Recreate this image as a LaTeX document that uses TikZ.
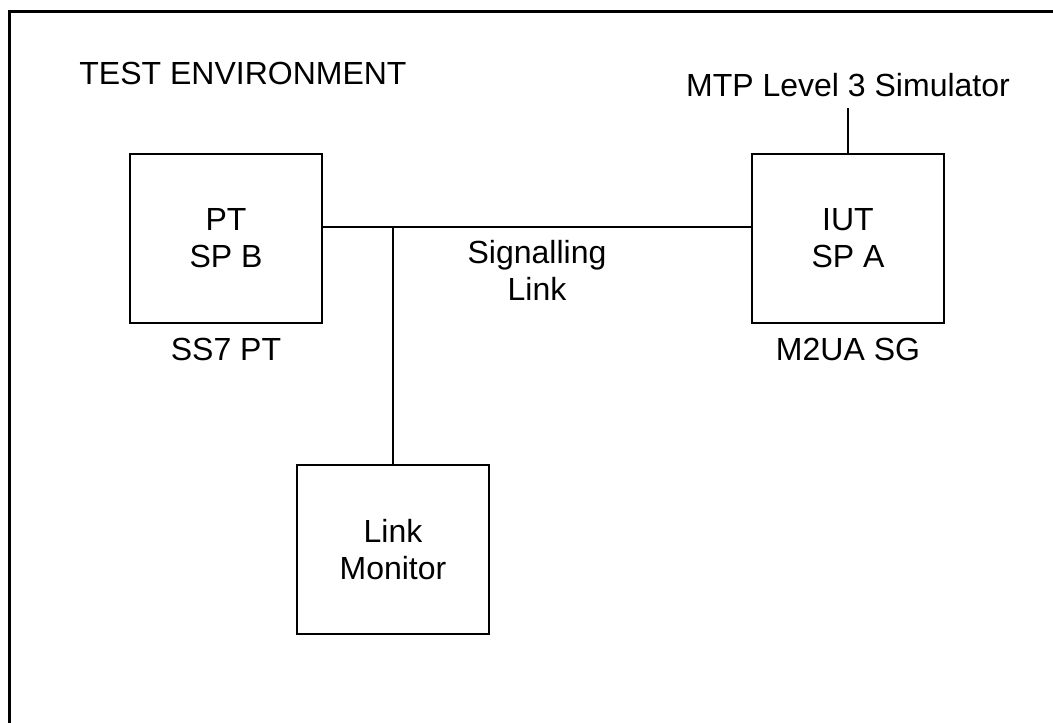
\documentclass[tikz,border=0pt]{standalone}
\usepackage{fontspec}
\setmainfont{Liberation Sans}
\usetikzlibrary{positioning}
\tikzset{
  unit/.style={draw, line width=2.4pt, minimum width=192pt, minimum height=169pt, align=center, inner sep=0pt},
  caption/.style={inner sep=0pt, align=center},
  wire/.style={line width=2.4pt}
}
\begin{document}
\begin{tikzpicture}[x=1pt, y=-1pt, font=\fontsize{32}{37}\selectfont]
				\useasboundingbox (0,0) rectangle (1053,723);
				\clip (0,0) rectangle (1053,723);
				% outer frame, cut off by the page
				\draw[line width=3pt] (9,760) -- (9,11) -- (1090,11);
				\node[caption, anchor=base] (env) at (243,84) {TEST ENVIRONMENT};
				% test units
				\node[unit] (pt) at (226,238.5) {PT\\SP B};
				\node[unit] (iut) at (848,238.5) {IUT\\SP A};
				\node[unit] (mon) at (393,549.5) {Link\\Monitor};
				\node[caption, below=14pt of pt.south] (ptlab) {SS7 PT};
				\node[caption, below=14pt of iut.south] (iutlab) {M2UA SG};
				\node[caption, anchor=base] (mtp) at (848,96) {MTP Level 3 Simulator};
				% signalling link
				\coordinate (link) at (0,227);
				\draw[wire] (pt.east |- link) -- (iut.west |- link);
				\draw[wire] (mon.north) -- (mon.north |- link);
				\draw[wire] (iut.north) -- ([yshift=-11pt]mtp.south);
				\node[caption] (siglab) at (537,270) {Signalling\\Link};
			\end{tikzpicture}
\end{document}
